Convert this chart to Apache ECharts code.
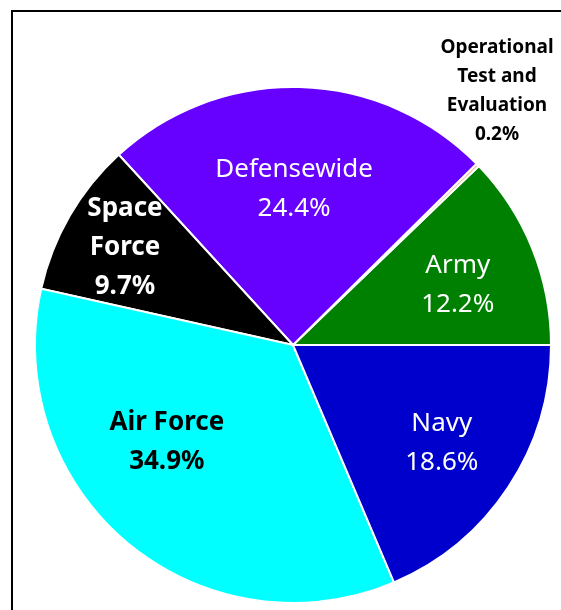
<!DOCTYPE html>
<html>
<head>
<meta charset="utf-8">
<script src="https://cdn.jsdelivr.net/npm/echarts@6/dist/echarts.min.js"></script>
<style>
  html, body { margin: 0; padding: 0; background: #fff; }
  #chart { width: 561px; height: 610px; }
</style>
</head>
<body>
<div id="chart"></div>
<script>
// 各部门占比（逆时针，从 3 点钟方向开始）
const names = ['Army', 'Operational\nTest and\nEvaluation', 'Defensewide', 'Space\nForce', 'Air Force', 'Navy']
const shares = [12.2, 0.2, 24.4, 9.7, 34.9, 18.6]
const colors = ['#008000', '#F4B183', '#6600FF', '#000000', '#00FFFF', '#0000CC']

// 标签样式
const labelColor = ['#fff', '#000', '#fff', '#fff', '#000', '#fff']
const labelBold = [false, true, false, true, true, false]
// 标签位置（相对圆心的半径和角度）
const labelRadius = [176, 327, 158, 195, 158, 177]
const labelAngle = [20.6, 51.4, 89.6, 149.5, 217, 327.2]

const cx = 293
const cy = 345
const radius = 258

const chart = echarts.init(document.getElementById('chart'))

const pieData = names.map((name, i) => ({
  name: name,
  value: shares[i],
  itemStyle: { color: colors[i] },
  label: {
    position: i === 1 ? 'outside' : 'inside',
    color: labelColor[i],
    fontWeight: labelBold[i] ? 'bold' : 'normal',
    fontSize: i === 1 ? 19 : 26,
    lineHeight: i === 1 ? 29 : 39
  },
  labelLine: { show: false }
}))

chart.setOption({
  animation: false,
  graphic: [
    {
      type: 'polyline',
      shape: { points: [[12, 612], [12, 11], [563, 11]] },
      style: { stroke: '#000', lineWidth: 2, fill: null }
    }
  ],
  series: [
    {
      type: 'pie',
      center: [cx, cy],
      radius: radius,
      startAngle: 0,
      clockwise: false,
      avoidLabelOverlap: false,
      itemStyle: { borderColor: '#fff', borderWidth: 2 },
      emphasis: { disabled: true },
      label: {
        fontFamily: 'Noto Sans',
        align: 'center',
        formatter: (p) => p.name + '\n' + p.value.toFixed(1) + '%'
      },
      labelLayout: (params) => {
        const i = params.dataIndex
        const a = labelAngle[i] * Math.PI / 180
        return {
          x: cx + labelRadius[i] * Math.cos(a),
          y: cy + 2 - labelRadius[i] * Math.sin(a),
          align: 'center',
          verticalAlign: 'middle'
        }
      },
      data: pieData
    }
  ]
})
</script>
</body>
</html>
